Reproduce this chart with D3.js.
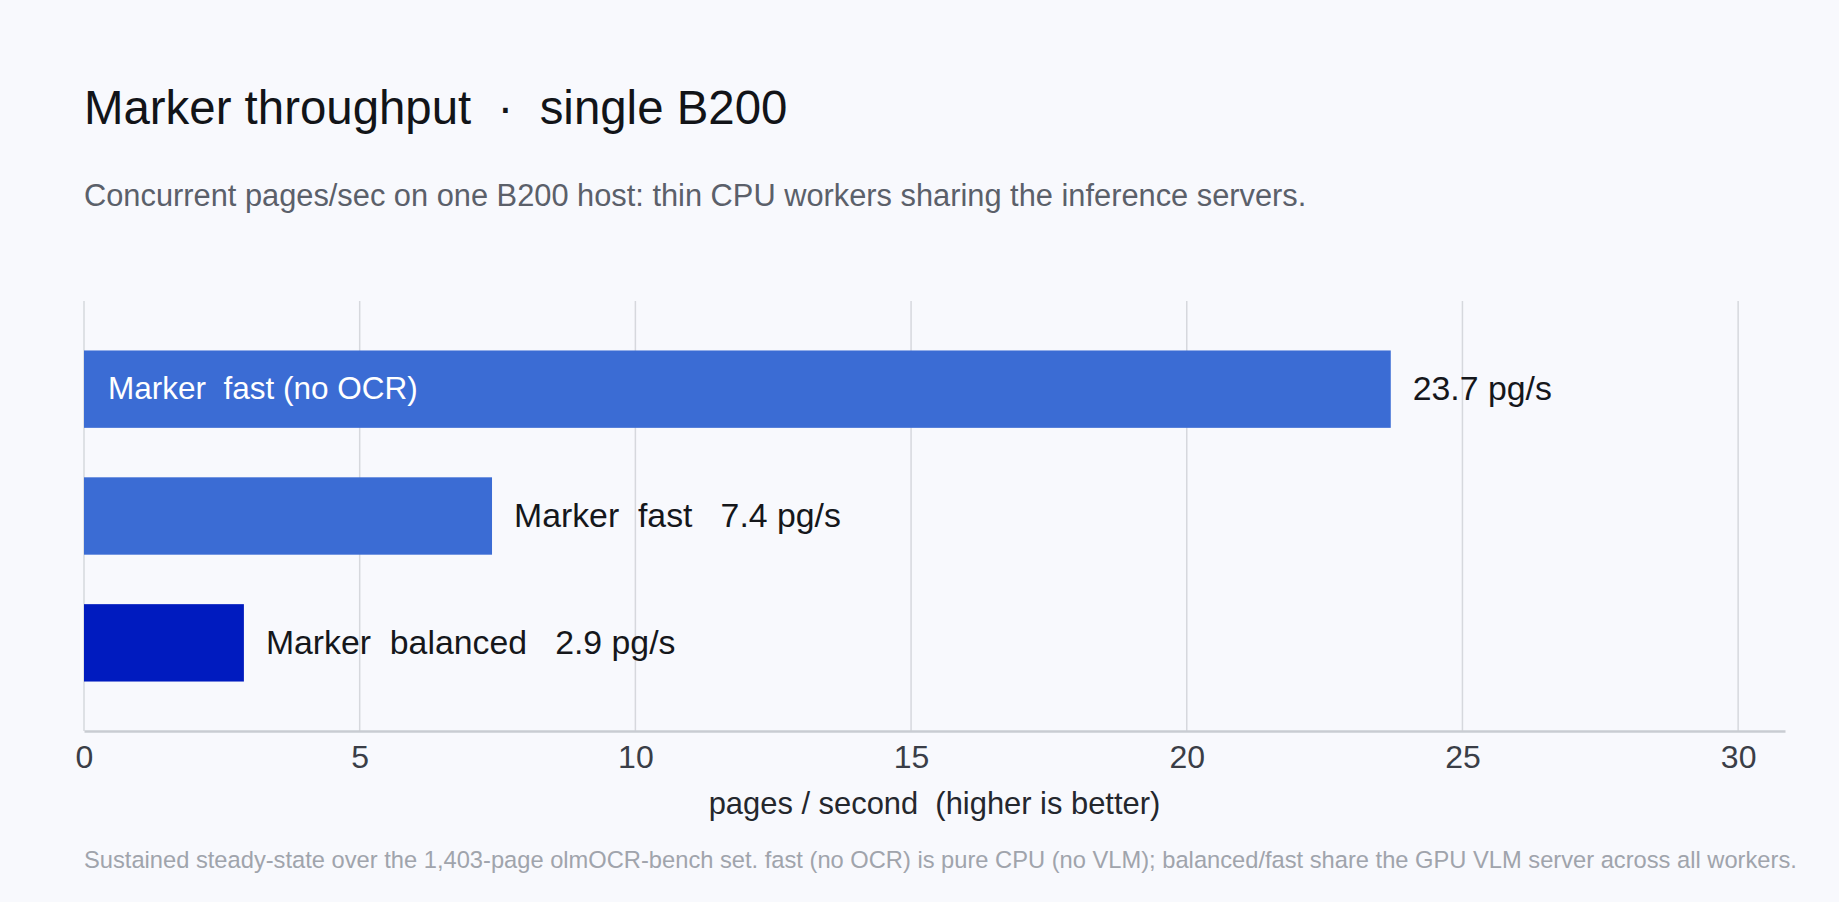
<!DOCTYPE html>
<html>
<head>
<meta charset="utf-8">
<script src="https://cdn.jsdelivr.net/npm/d3@7/dist/d3.min.js"></script>
<style>
  html, body { margin: 0; padding: 0; background: #f8f9fd; }
  svg { display: block; font-family: "Liberation Sans", Arial, Helvetica, sans-serif; }
  text { white-space: pre; }
</style>
</head>
<body>
<svg id="chart" width="1839" height="902"></svg>
<script>
const categories = ["Marker  fast (no OCR)", "Marker  fast", "Marker  balanced"];
const values = [23.7, 7.4, 2.9];
const barColors = ["#3b6cd4", "#3b6cd4", "#001bbf"];
const tickValues = [0, 5, 10, 15, 20, 25, 30];
const insideLabel = [true, false, false];

const titleText = "Marker throughput  \u00b7  single B200";
const subtitleText = "Concurrent pages/sec on one B200 host: thin CPU workers sharing the inference servers.";
const axisTitle = "pages / second  (higher is better)";
const footnote = "Sustained steady-state over the 1,403-page olmOCR-bench set. fast (no OCR) is pure CPU (no VLM); balanced/fast share the GPU VLM server across all workers.";

(function () {
const svg = d3.select("#chart");
const W = 1839, H = 902;
svg.append("rect").attr("width", W).attr("height", H).attr("fill", "#f8f9fd");

const pLeft = 84, pRight = 1785, pTop = 301, pBottom = 731;

const x = d3.scaleLinear().domain([0, 30.85]).range([pLeft, pRight]);
const y = d3.scaleBand().domain(categories).range([pTop, pBottom]).paddingInner(0.39).paddingOuter(0.39);

// title / subtitle
svg.append("text").attr("x", pLeft).attr("y", 124)
  .attr("font-size", 47.4).attr("fill", "#121418").text(titleText);
svg.append("text").attr("x", pLeft).attr("y", 206)
  .attr("font-size", 30.8).attr("fill", "#5b606a").text(subtitleText);

// gridlines
svg.append("g").selectAll("line").data(tickValues).join("line")
  .attr("x1", d => x(d)).attr("x2", d => x(d))
  .attr("y1", pTop).attr("y2", pBottom)
  .attr("stroke", "#d6d8dd").attr("stroke-width", 1.5);

// axis
const axis = d3.axisBottom(x).tickValues(tickValues).tickSize(0).tickPadding(14).tickFormat(d3.format("d"));
const gAxis = svg.append("g").attr("transform", `translate(0,${pBottom})`).call(axis);
gAxis.select(".domain").attr("stroke", "#c9ccd2").attr("stroke-width", 2.5);
gAxis.selectAll(".tick text").attr("font-size", 32).attr("fill", "#3a3e47")
  .attr("font-family", "Liberation Sans, Arial, sans-serif");

// axis title
svg.append("text").attr("x", (pLeft + pRight) / 2).attr("y", 814)
  .attr("text-anchor", "middle").attr("font-size", 30.9).attr("fill", "#24272d").text(axisTitle);

// bars
const rows = categories.map((c, i) => ({ c, v: values[i], col: barColors[i], inside: insideLabel[i] }));
svg.append("g").selectAll("rect").data(rows).join("rect")
  .attr("x", x(0)).attr("y", d => y(d.c))
  .attr("width", d => x(d.v) - x(0)).attr("height", y.bandwidth())
  .attr("fill", d => d.col);

// inside labels
svg.append("g").selectAll("text").data(rows.filter(d => d.inside)).join("text")
  .attr("x", x(0) + 24).attr("y", d => y(d.c) + y.bandwidth() / 2)
  .attr("dy", "0.32em").attr("font-size", 31.5).attr("fill", "#ffffff").text(d => d.c);

// outside labels
svg.append("g").selectAll("text").data(rows).join("text")
  .attr("x", d => x(d.v) + 22).attr("y", d => y(d.c) + y.bandwidth() / 2)
  .attr("dy", "0.32em").attr("font-size", 33.8).attr("fill", "#15171b")
  .text(d => d.inside ? `${d.v.toFixed(1)} pg/s` : `${d.c}   ${d.v.toFixed(1)} pg/s`);

// footnote
svg.append("text").attr("x", pLeft).attr("y", 868)
  .attr("font-size", 23.7).attr("fill", "#a0a4ac").text(footnote);
})();
</script>
</body>
</html>
